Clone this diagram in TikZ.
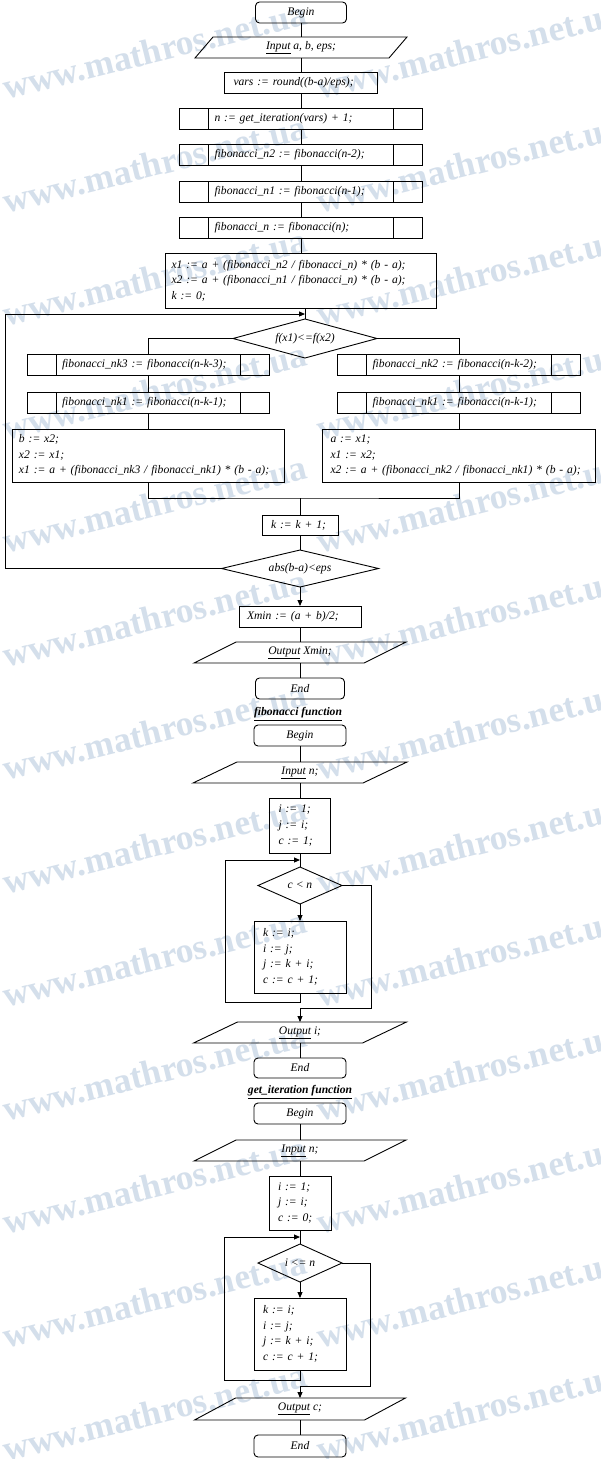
\documentclass[tikz,border=0pt]{standalone}
\usepackage{fontspec}
\setmainfont{Liberation Serif}
\usetikzlibrary{shapes.geometric,arrows.meta,calc}
\definecolor{wmcol}{RGB}{212,223,235}
\tikzset{
  base/.style={font=\itshape\fontsize{11.6}{15.6}\selectfont, line width=0.9pt, outer sep=0pt, inner sep=0pt},
  term/.style={base, draw, rounded corners=4pt, minimum height=21, align=center},
  proc/.style={base, draw, align=left},
  pred/.style={base, draw, align=left, minimum height=21, inner xsep=35,
    path picture={
      \draw[line width=0.9pt] ([xshift=29]path picture bounding box.north west) -- ([xshift=29]path picture bounding box.south west);
      \draw[line width=0.9pt] ([xshift=-29]path picture bounding box.north east) -- ([xshift=-29]path picture bounding box.south east);
    }},
  io/.style={base, minimum height=21, align=center},
  cond/.style={base, draw, diamond, align=center},
  title/.style={base, font=\bfseries\itshape\fontsize{11.6}{14}\selectfont},
  line/.style={line width=0.9pt},
  arr/.style={line width=0.9pt, -{Triangle[length=6pt,width=5pt]}},
  wmark/.style={anchor=base west, rotate=14, text=wmcol, inner sep=0pt,
    font=\bfseries\fontsize{35.5}{36}\selectfont}
}
\newcommand\iopar[2]{\draw[line] ([xshift=#2]#1.north west) -- (#1.north east) -- ([xshift=-#2]#1.south east) -- (#1.south west) -- cycle;}
\begin{document}
\begin{tikzpicture}[x=1pt,y=-1pt]
\useasboundingbox (0,0) rectangle (600,1459);
\fill[white] (0,0) rectangle (600,1459);
% watermark
\begin{scope}
\clip (0,0) rectangle (600,1459);
\foreach \i in {0,...,12}{
  \pgfmathsetmacro\yy{100+113.5*\i}
  \node[wmark] (wmL\i) at (6,\yy) {www.mathros.net.ua};
  \node[wmark] (wmR\i) at (320,\yy) {www.mathros.net.ua};
}
\end{scope}

% ---------------- main ----------------
\node[term, minimum width=91] (begin1) at (301,12.5) {Begin};
\node[io, minimum width=212] (in1) at (301,47.5) {\underline{Input} a, b, eps;};
\iopar{in1}{18}
\node[proc, minimum width=153, minimum height=21, inner xsep=9, text width=135] (vars) at (301,82.5) {\mbox{vars := round((b-a)/eps);}};
\node[pred, minimum width=243, text width=173] (nb) at (301,118.5) {\mbox{n := get\_iteration(vars) + 1;}};
\node[pred, minimum width=243, text width=173] (fn2) at (301,155) {\mbox{fibonacci\_n2 := fibonacci(n-2);}};
\node[pred, minimum width=243, text width=173] (fn1) at (301,191.5) {\mbox{fibonacci\_n1 := fibonacci(n-1);}};
\node[pred, minimum width=243, text width=173] (fn) at (301,227.5) {\mbox{fibonacci\_n := fibonacci(n);}};
\node[proc, minimum width=271, minimum height=55, inner xsep=6, text width=259] (x1) at (301,280.5)
  {x1 := a + (fibonacci\_n2 / fibonacci\_n) * (b - a);\\ x2 := a + (fibonacci\_n1 / fibonacci\_n) * (b - a);\\ k := 0;};
\node[cond, minimum width=144, minimum height=39, aspect=3.7] (c1) at (305,338.5) {f(x1)<=f(x2)};

\node[pred, minimum width=242, text width=172] (lb1) at (148,364.5) {\mbox{fibonacci\_nk3 := fibonacci(n-k-3);}};
\node[pred, minimum width=242, text width=172] (lb2) at (148,402.5) {\mbox{fibonacci\_nk1 := fibonacci(n-k-1);}};
\node[proc, minimum width=272, minimum height=53, inner xsep=7, text width=258] (lb3) at (148,455.5)
  {b := x2;\\ x2 := x1;\\ x1 := a + (fibonacci\_nk3 / fibonacci\_nk1) * (b - a);};
\node[pred, minimum width=243, text width=173] (rb1) at (459,364.5) {\mbox{fibonacci\_nk2 := fibonacci(n-k-2);}};
\node[pred, minimum width=243, text width=173] (rb2) at (459,402.5) {\mbox{fibonacci\_nk1 := fibonacci(n-k-1);}};
\node[proc, minimum width=273, minimum height=53, inner xsep=8, text width=257] (rb3) at (459,455.5)
  {a := x1;\\ x1 := x2;\\ x2 := a + (fibonacci\_nk2 / fibonacci\_nk1) * (b - a);};
\coordinate (mg) at (300,498);
\node[proc, minimum width=76, minimum height=20, inner xsep=9, text width=58] (kk) at (300,525) {\mbox{k := k + 1;}};
\node[cond, minimum width=157, minimum height=37, aspect=4.2] (ab) at (300,568.5) {abs(b-a)<eps};
\coordinate (lp) at (5,314);
\coordinate (j1) at (305,314);
\node[proc, minimum width=122, minimum height=21, inner xsep=8, text width=106] (xm) at (300,616.5) {\mbox{Xmin := (a + b)/2;}};
\node[io, minimum width=212] (out1) at (300,652.5) {\underline{Output} Xmin;};
\iopar{out1}{42}
\node[term, minimum width=89] (end1) at (300,688.5) {End};

\draw[line] (begin1) -- (in1);
\draw[line] (in1) -- (vars);
\draw[line] (vars) -- (nb);
\draw[line] (nb) -- (fn2);
\draw[line] (fn2) -- (fn1);
\draw[line] (fn1) -- (fn);
\draw[line] (fn) -- (x1);
\draw[line] (x1.south -| c1.north) -- (c1.north);
\draw[line] (c1.west) -| (lb1.north);
\draw[line] (c1.east) -| (rb1.north);
\draw[line] (lb1) -- (lb2);
\draw[line] (lb2) -- (lb3);
\draw[line] (rb1) -- (rb2);
\draw[line] (rb2) -- (rb3);
\draw[line] (lb3.south) |- (mg) -| (rb3.south);
\draw[line] (mg) -- (kk.north);
\draw[line] (kk) -- (ab);
\draw[arr] (ab.west) -| (lp) -- (j1);
\draw[arr] (ab.south) -- (xm.north);
\draw[line] (xm) -- (out1);
\draw[line] (out1) -- (end1);

% ---------------- fibonacci function ----------------
\node[title] (t1) at (298,714) {\underline{fibonacci function}};
\node[term, minimum width=92] (begin2) at (300,735.5) {Begin};
\node[io, minimum width=214] (in2) at (300,772.5) {\underline{Input} n;};
\iopar{in2}{44}
\node[proc, minimum width=61, minimum height=55, inner xsep=9, text width=43] (i2) at (300,825.5) {i := 1;\\ j := i;\\ c := 1;};
\coordinate (j2) at (300,860);
\node[cond, minimum width=84, minimum height=37, aspect=2.3] (c2) at (300,885.5) {c < n};
\node[proc, minimum width=92, minimum height=72, inner xsep=9, text width=74] (k2) at (300,957) {k := i;\\ i := j;\\ j := k + i;\\ c := c + 1;};
\coordinate (l2) at (225,1002);
\coordinate (r2) at (371,1008);
\node[io, minimum width=213] (out2) at (300,1032.5) {\underline{Output} i;};
\iopar{out2}{44}
\node[term, minimum width=92, minimum height=20] (end2) at (300,1068) {End};

\draw[line] (begin2) -- (in2);
\draw[line] (in2) -- (i2);
\draw[line] (i2) -- (c2);
\draw[arr] (k2.south) |- (l2) |- (j2);
\draw[arr] (c2.south) -- (k2.north);
\draw[arr] (c2.east) -| (r2) -| (out2.north);
\draw[line] (out2) -- (end2);

% ---------------- get_iteration function ----------------
\node[title] (t2) at (300,1092) {\underline{get\_iteration function}};
\node[term, minimum width=92] (begin3) at (300,1113.5) {Begin};
\node[io, minimum width=212] (in3) at (300,1150.5) {\underline{Input} n;};
\iopar{in3}{42}
\node[proc, minimum width=62, minimum height=54, inner xsep=9, text width=44] (i3) at (300,1203) {i := 1;\\ j := i;\\ c := 0;};
\coordinate (j3) at (300,1237);
\node[cond, minimum width=84, minimum height=38, aspect=2.2] (c3) at (300,1263) {i <= n};
\node[proc, minimum width=92, minimum height=72, inner xsep=9, text width=74] (k3) at (300,1334) {k := i;\\ i := j;\\ j := k + i;\\ c := c + 1;};
\coordinate (l3) at (224,1380);
\coordinate (r3) at (370,1386);
\node[io, minimum width=211, minimum height=22] (out3) at (300,1409) {\underline{Output} c;};
\iopar{out3}{41}
\node[term, minimum width=92, minimum height=22] (end3) at (300,1446) {End};

\draw[line] (begin3) -- (in3);
\draw[line] (in3) -- (i3);
\draw[line] (i3) -- (c3);
\draw[arr] (k3.south) |- (l3) |- (j3);
\draw[arr] (c3.south) -- (k3.north);
\draw[arr] (c3.east) -| (r3) -| (out3.north);
\draw[line] (out3) -- (end3);
\end{tikzpicture}
\end{document}
